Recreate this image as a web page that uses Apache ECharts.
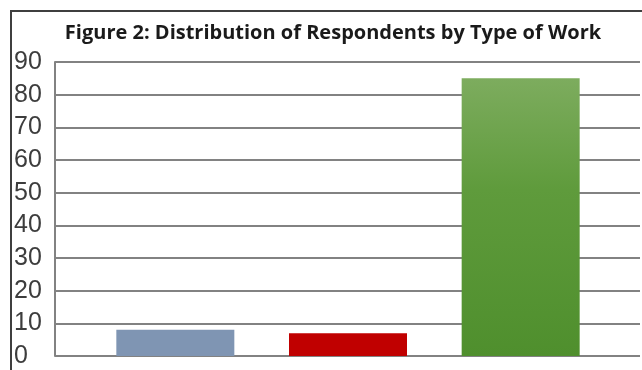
<!DOCTYPE html>
<html>
<head>
<meta charset="utf-8">
<script src="https://cdn.jsdelivr.net/npm/echarts@6/dist/echarts.min.js"></script>
<style>html,body{margin:0;padding:0;background:#fff}#c{width:642px;height:370px}</style>
</head>
<body>
<div id="c"></div>
<script>
const titleText = "Figure 2: Distribution of Respondents by Type of Work";
const categories = ["Type 1", "Type 2", "Type 3"];
const values = [8, 7, 85];
const barColors = ["#7f95b3", "#c00000", null];
const yTicks = [0, 10, 20, 30, 40, 50, 60, 70, 80, 90];

const chart = echarts.init(document.getElementById('c'), null, {renderer: 'canvas'});
const greenGrad = new echarts.graphic.LinearGradient(0, 0, 0, 1, [
  {offset: 0, color: '#7dac5e'},
  {offset: 0.4, color: '#5f9b3c'},
  {offset: 1, color: '#4f8f2d'}
]);
chart.setOption({
  animation: false,
  title: {
    text: titleText, left: 328, top: 18, textAlign: 'center',
    textStyle: {fontFamily: 'Open Sans', fontWeight: 'bold', fontSize: 20, color: '#1a1a1a'}
  },
  graphic: [{
    type: 'polyline', silent: true,
    shape: {points: [[11, 372], [11, 11], [645, 11]]},
    style: {stroke: '#3f3f3f', lineWidth: 2, fill: null}
  }],
  grid: [
    {left: 55, right: 2, top: 62, bottom: 14},
    {left: 89, right: 35, top: 62, bottom: 14}
  ],
  xAxis: [
    {type: 'category', gridIndex: 0, data: categories, show: false},
    {type: 'category', gridIndex: 1, data: categories, show: false}
  ],
  yAxis: [
    {
      type: 'value', gridIndex: 0, min: yTicks[0], max: yTicks[yTicks.length - 1], interval: 10,
      axisLine: {show: true, lineStyle: {color: '#828282', width: 2}},
      axisTick: {show: false},
      splitLine: {show: true, lineStyle: {color: '#828282', width: 2}},
      axisLabel: {align: 'left', margin: 41, fontFamily: 'Liberation Sans', fontSize: 25, color: '#3d3d3d'}
    },
    {type: 'value', gridIndex: 1, min: 0, max: 90, show: false}
  ],
  series: [{
    type: 'bar', xAxisIndex: 1, yAxisIndex: 1, barWidth: 118,
    data: values.map((v, i) => ({value: v, itemStyle: {color: barColors[i] || greenGrad}}))
  }]
});
</script>
</body>
</html>
